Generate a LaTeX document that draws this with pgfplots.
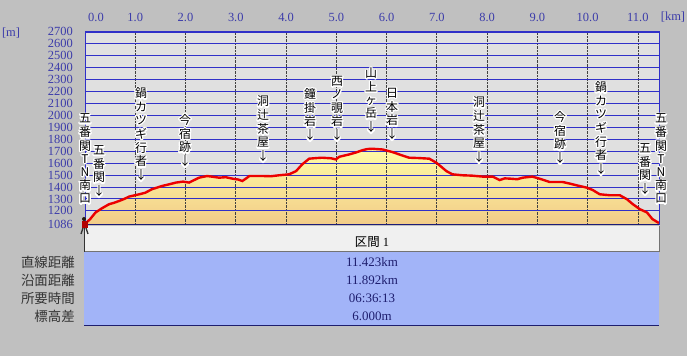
\documentclass[border=0pt]{standalone}
\usepackage{pgfplots}
\pgfplotsset{compat=1.18}
\usepackage{pgfplotstable}
\usepackage{fontspec}
\setmainfont{Liberation Serif}
\newfontfamily\jp{Noto Sans CJK JP}
\definecolor{outerbg}{RGB}{192,192,192}
\definecolor{plotbg}{RGB}{224,224,224}
\definecolor{gridblue}{RGB}{48,48,200}
\definecolor{tickblue}{RGB}{60,60,170}
\definecolor{profred}{RGB}{236,0,0}
\definecolor{filltop}{RGB}{255,252,165}
\definecolor{fillbot}{RGB}{242,204,136}
\definecolor{rowblue}{RGB}{162,180,248}
\definecolor{hdrgray}{RGB}{240,240,240}
\definecolor{valblue}{RGB}{30,30,110}

\pgfplotstableread{
km elev
0.00 1092
0.10 1130
0.21 1187
0.35 1225
0.48 1256
0.58 1268
0.68 1283
0.78 1300
0.88 1320
1.08 1339
1.20 1352
1.33 1381
1.53 1408
1.70 1425
1.81 1437
1.95 1445
2.07 1437
2.27 1478
2.43 1492
2.55 1485
2.67 1478
2.80 1482
2.93 1470
3.05 1462
3.13 1450
3.20 1470
3.27 1492
3.53 1492
3.70 1490
3.86 1498
4.06 1506
4.20 1533
4.32 1589
4.46 1637
4.60 1642
4.72 1645
4.90 1640
4.99 1631
5.06 1653
5.26 1673
5.40 1690
5.52 1708
5.62 1718
5.72 1720
5.82 1717
5.92 1714
6.12 1692
6.31 1664
6.45 1645
6.65 1642
6.85 1637
6.99 1603
7.10 1565
7.19 1533
7.31 1506
7.51 1498
7.70 1495
7.91 1487
8.11 1487
8.25 1458
8.35 1472
8.45 1470
8.60 1465
8.71 1478
8.90 1487
9.04 1470
9.15 1455
9.24 1442
9.50 1442
9.65 1428
9.78 1414
9.98 1395
10.10 1375
10.24 1339
10.44 1331
10.64 1331
10.78 1298
10.90 1256
11.04 1214
11.18 1187
11.29 1131
11.42 1098
}\profile

\newcommand\vstack[1]{\begin{tabular}{@{}c@{}}#1\end{tabular}}
\newcommand\vlab[3]{%
  \node[anchor=south, inner sep=0pt, font=\jp\fontsize{12}{13}\selectfont]
    at (#1bp,356bp-#2bp)
    {\rlap{\color{white}\special{pdf:literal direct 2 Tr 2.6 w 1 j}\vstack{#3}\special{pdf:literal direct 0 Tr}}\vstack{#3}};}

\begin{document}
\begin{tikzpicture}
\useasboundingbox (0,0) rectangle (687bp,356bp);
\fill[outerbg] (0,0) rectangle (687bp,356bp);
% table
\fill[hdrgray] (84bp,356bp-252bp) rectangle (659bp,356bp-226bp);
\draw[black!55, line width=1bp] (84bp,356bp-252bp) -- (659bp,356bp-252bp) -- (659bp,356bp-226bp);
\draw[black!80, line width=1bp] (84.5bp,356bp-226bp) -- (84.5bp,356bp-252bp);
\fill[rowblue] (84bp,356bp-326bp) rectangle (659bp,356bp-252bp);
\draw[valblue, line width=1bp] (84bp,356bp-326bp) -- (659bp,356bp-326bp);
\node[font=\fontsize{12.5}{13}\selectfont] at (372bp,356bp-242bp) {{\jp 区間} 1};
\begin{scope}[every node/.style={font=\fontsize{13}{13}\selectfont, text=valblue}]
\node at (372bp,356bp-262bp) {11.423km};
\node at (372bp,356bp-280bp) {11.892km};
\node at (372bp,356bp-298bp) {06:36:13};
\node at (372bp,356bp-316bp) {6.000m};
\end{scope}
\begin{scope}[every node/.style={font=\jp\fontsize{13.5}{13}\selectfont, text=black!80, anchor=east, inner sep=0pt}]
\node at (75bp,356bp-262bp) {直線距離};
\node at (75bp,356bp-280bp) {沿面距離};
\node at (75bp,356bp-298bp) {所要時間};
\node at (75bp,356bp-316bp) {標高差};
\end{scope}
\begin{axis}[
  at={(85bp,131.5bp)}, anchor=south west,
  scale only axis, width=574bp, height=192.8bp,
  xmin=0, xmax=11.42, ymin=1086, ymax=2700,
  axis background/.style={fill=plotbg},
  axis on top,
  xtick={1,2,3,4,5,6,7,8,9,10,11},
  xticklabels={1.0,2.0,3.0,4.0,5.0,6.0,7.0,8.0,9.0,10.0,11.0},
  xticklabel pos=upper,
  extra x ticks={0}, extra x tick labels={0.0},
  extra x tick style={grid=none, xticklabel style={xshift=11bp}},
  ytick={1086,1200,1300,1400,1500,1600,1700,1800,1900,2000,2100,2200,2300,2400,2500,2600,2700},
  major tick length=0pt,
  xmajorgrids, ymajorgrids,
  x grid style={densely dotted, black!75, line width=0.7bp},
  y grid style={gridblue, line width=0.9bp},
  axis line style={gridblue, line width=1bp},
  tick label style={font=\fontsize{12.5}{12}\selectfont, text=tickblue},
  /pgf/number format/assume math mode=true,
  /pgf/number format/1000 sep={},
  yticklabel style={anchor=east, inner sep=0pt, xshift=-12bp},
  xticklabel style={anchor=center, inner sep=0pt, yshift=14.5bp},
]
\addplot[draw=none, top color=filltop, bottom color=fillbot] table[x=km,y=elev]{\profile} \closedcycle;
\end{axis}
\begin{axis}[
  at={(85bp,131.5bp)}, anchor=south west,
  scale only axis, width=574bp, height=192.8bp,
  xmin=0, xmax=11.42, ymin=1086, ymax=2700,
  axis lines=none, ticks=none,
]
\addplot[profred, line width=2.4bp] table[x=km,y=elev]{\profile};
\end{axis}
\draw[gridblue, line width=2bp] (85bp,324.3bp) -- (659bp,324.3bp);
\draw[black!40!gridblue, line width=1.5bp] (85bp,131.5bp) -- (659bp,131.5bp);
\node[font=\fontsize{12.5}{12}\selectfont, text=tickblue] at (11bp,356bp-33bp) {[m]};
\node[font=\fontsize{12.5}{12}\selectfont, text=tickblue] at (673bp,356bp-17bp) {[km]};
% hiker icon at the start
\fill[black!80!brown] (84bp,356bp-219bp) circle (2bp);
\fill[red!70!black] (81.5bp,356bp-228bp) rectangle (87.5bp,356bp-221bp);
\draw[black!80, line width=1.3bp] (83bp,356bp-228bp) -- (81bp,356bp-234bp) (86bp,356bp-228bp) -- (88bp,356bp-234bp);
% labels
\vlab{85}{207}{五\\番\\関\\T\\N\\南\\口}
\vlab{99}{200}{五\\番\\関\\↓}
\vlab{141}{184}{鍋\\カ\\ツ\\ギ\\行\\者\\↓}
\vlab{185}{170}{今\\宿\\跡\\↓}
\vlab{263}{165}{洞\\辻\\茶\\屋\\↓}
\vlab{310}{144}{鐘\\掛\\岩\\↓}
\vlab{337}{144}{西\\ノ\\覗\\岩\\↓}
\vlab{371}{136}{山\\上\\ヶ\\岳\\↓}
\vlab{392}{143}{日\\本\\岩\\↓}
\vlab{479}{166}{洞\\辻\\茶\\屋\\↓}
\vlab{560}{167}{今\\宿\\跡\\↓}
\vlab{601}{178}{鍋\\カ\\ツ\\ギ\\行\\者\\↓}
\vlab{645}{198}{五\\番\\関\\↓}
\vlab{661}{207}{五\\番\\関\\T\\N\\南\\口}
\end{tikzpicture}
\end{document}
